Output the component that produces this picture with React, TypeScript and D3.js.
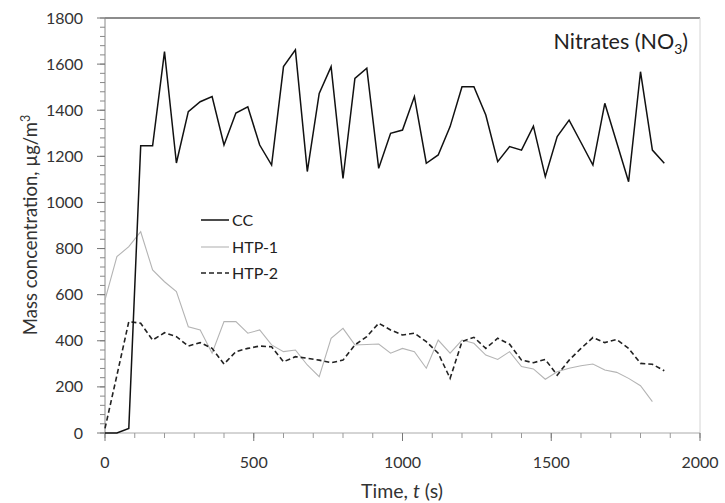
import React from "react";
import * as d3 from "d3";

const times = [0,40,80,120,160,200,240,280,320,360,400,440,480,520,560,600,640,680,720,760,800,840,880,920,960,1000,1040,1080,1120,1160,1200,1240,1280,1320,1360,1400,1440,1480,1520,1560,1600,1640,1680,1720,1760,1800,1840,1880];
const ccValues = [0,0,20,1246,1246,1654,1171,1394,1437,1459,1249,1388,1415,1249,1162,1589,1662,1134,1473,1589,1104,1538,1582,1148,1300,1314,1459,1170,1206,1329,1502,1502,1379,1177,1242,1227,1331,1112,1286,1357,1260,1162,1430,1260,1090,1567,1227,1170];
const htp1Values = [577,765,808,873,707,656,613,461,447,346,483,483,433,447,382,353,360,295,244,411,454,382,384,386,346,367,353,281,403,346,403,389,338,319,353,288,278,233,266,281,292,299,273,263,237,205,136];
const htp2Values = [20,250,483,476,403,435,418,377,392,367,299,353,367,377,374,309,331,324,316,305,316,382,418,476,447,425,433,396,346,237,396,415,367,411,385,316,305,319,251,316,367,414,392,406,367,302,298,270];
const xTicks = [0,500,1000,1500,2000];
const yTicks = [0,200,400,600,800,1000,1200,1400,1600,1800];

const W = 725, H = 503;
const L = 105, R = 700, T = 18, B = 433;
const FONT = "Lato, 'Open Sans', sans-serif";

export default function App() {
  const x = d3.scaleLinear().domain([0, 2000]).range([L, R]);
  const y = d3.scaleLinear().domain([0, 1800]).range([B, T]);
  const line = d3.line<[number, number]>().x(d => x(d[0])).y(d => y(d[1]));
  const mk = (vals: number[]) => vals.map((v, i) => [times[i], v] as [number, number]);
  const xMinor = d3.range(0, 2001, 100);
  const yMinor = d3.range(0, 1801, 40);
  return (
    <svg width={W} height={H} style={{ position: "absolute", left: 0, top: 0, background: "#fff" }} fontFamily={FONT}>
      <rect x={0} y={0} width={W} height={H} fill="#fff" />
      {/* frame */}
      <line x1={L} x2={R} y1={T} y2={T} stroke="#666" strokeWidth={1.5} />
      <line x1={R} x2={R} y1={T} y2={B} stroke="#d4d4d4" strokeWidth={1} />
      {/* axes */}
      <line x1={L} x2={L} y1={T} y2={B} stroke="#888" strokeWidth={1} />
      <line x1={L} x2={R} y1={B} y2={B} stroke="#aaa" strokeWidth={1} />
      {yMinor.map(v => (
        <line key={"ym" + v} x1={L - 5} x2={L} y1={y(v)} y2={y(v)} stroke="#888" strokeWidth={1} />
      ))}
      {yTicks.map(v => (
        <g key={"y" + v}>
          <line x1={L - 8} x2={L} y1={y(v)} y2={y(v)} stroke="#777" strokeWidth={1} />
          <text x={83} y={y(v)} dy="0.35em" textAnchor="end" fontSize={16} fill="#333">{v}</text>
        </g>
      ))}
      {xMinor.map(v => (
        <line key={"xm" + v} x1={x(v)} x2={x(v)} y1={B} y2={B + 5} stroke="#999" strokeWidth={1} />
      ))}
      {xTicks.map(v => (
        <g key={"x" + v}>
          <line x1={x(v)} x2={x(v)} y1={B} y2={B + 8} stroke="#777" strokeWidth={1} />
          <text x={x(v)} y={468} textAnchor="middle" fontSize={16} fill="#333">{v}</text>
        </g>
      ))}
      <text x={402} y={498} textAnchor="middle" fontSize={19.5} fill="#333">
        Time, <tspan fontStyle="italic">t</tspan> (s)
      </text>
      <text transform={`translate(37,225) rotate(-90)`} textAnchor="middle" fontSize={18.5} fill="#333">
        Mass concentration, µg/m<tspan dy={-7} fontSize={12.5}>3</tspan>
      </text>
      <text x={688} y={49} textAnchor="end" fontSize={21.5} fill="#222">
        Nitrates (NO<tspan dy={5} fontSize={14}>3</tspan><tspan dy={-5}>)</tspan>
      </text>
      {/* series */}
      <path d={line(mk(htp1Values)) || ""} fill="none" stroke="#b4b4b4" strokeWidth={1.1} />
      <path d={line(mk(htp2Values)) || ""} fill="none" stroke="#222" strokeWidth={1.6} strokeDasharray="5,3" />
      <path d={line(mk(ccValues)) || ""} fill="none" stroke="#111" strokeWidth={1.5} />
      {/* legend */}
      <g fontSize={16} fill="#222">
        <line x1={201} x2={229} y1={220} y2={220} stroke="#111" strokeWidth={1.5} />
        <text x={232} y={220} dy="0.35em">CC</text>
        <line x1={201} x2={229} y1={247} y2={247} stroke="#b4b4b4" strokeWidth={1.1} />
        <text x={232} y={247} dy="0.35em">HTP-1</text>
        <line x1={201} x2={229} y1={273} y2={273} stroke="#222" strokeWidth={1.6} strokeDasharray="5,3" />
        <text x={232} y={273} dy="0.35em">HTP-2</text>
      </g>
    </svg>
  );
}
